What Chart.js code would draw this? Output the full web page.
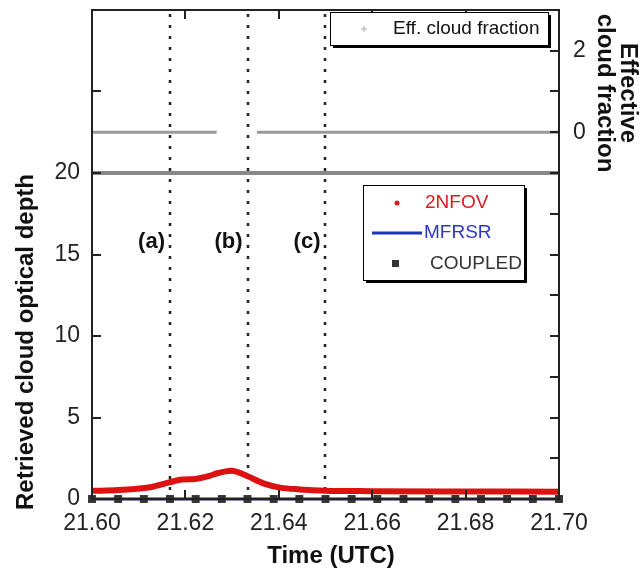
<!DOCTYPE html>
<html>
<head>
<meta charset="utf-8">
<script src="https://cdn.jsdelivr.net/npm/chart.js@4/dist/chart.umd.min.js"></script>
<style>
  html, body { margin: 0; padding: 0; background: #fff; }
</style>
</head>
<body>
<canvas id="cloudDepth" width="641" height="573"></canvas>
<script>
// time in UTC hours
var timeNfov   = [21.600, 21.6056, 21.6128, 21.6163, 21.6193, 21.6221, 21.6253, 21.6268, 21.6299, 21.6331, 21.6367, 21.6403, 21.6445, 21.6499, 21.660, 21.680, 21.700];
var depthNfov  = [0.50, 0.55, 0.74, 1.00, 1.19, 1.23, 1.43, 1.58, 1.74, 1.43, 0.96, 0.70, 0.59, 0.51, 0.48, 0.46, 0.45];

var timeCoupled  = [21.6000, 21.6056, 21.6111, 21.6167, 21.6222, 21.6278, 21.6333, 21.6389, 21.6444, 21.6500,
                    21.6556, 21.6611, 21.6667, 21.6722, 21.6778, 21.6833, 21.6889, 21.6944, 21.7000];
var depthCoupled = [0, 0, 0, 0, 0, 0, 0, 0, 0, 0, 0, 0, 0, 0, 0, 0, 0, 0, 0];
var depthMfrsr   = [0, 0, 0, 0, 0, 0, 0, 0, 0, 0, 0, 0, 0, 0, 0, 0, 0, 0, 0];

var timeFraction  = [21.600, 21.6267, 21.631, 21.6353, 21.700];
var cloudFraction = [0, 0, null, 0, 0];

var timeDivider  = [21.600, 21.700];
var depthDivider = [20, 20];

var eventTimes  = [21.6167, 21.6333, 21.6500];
var eventLabels = ['(a)', '(b)', '(c)'];

var xTicks = [21.60, 21.62, 21.64, 21.66, 21.68, 21.70];

var FONT = '"Liberation Sans", Arial, Helvetica, sans-serif';

function pairs(xs, ys) {
  var out = [];
  for (var i = 0; i < xs.length; i++) out.push({x: xs[i], y: ys[i]});
  return out;
}

function drawBox(ctx, x, y, w, h) {
  ctx.fillStyle = '#000';
  ctx.fillRect(x + 3, y + 3, w, h);
  ctx.fillStyle = '#fff';
  ctx.fillRect(x, y, w, h);
  ctx.strokeStyle = '#000';
  ctx.lineWidth = 1;
  ctx.strokeRect(x + 0.5, y + 0.5, w, h);
}

function noPad(s) {
  s.paddingTop = 0; s.paddingBottom = 0;
  s.paddingLeft = 0; s.paddingRight = 0;
}

var decor = {
  id: 'decor',
  beforeDatasetsDraw: function(chart) {
    var ctx = chart.ctx, a = chart.chartArea, sx = chart.scales.x;
    ctx.save();
    ctx.strokeStyle = '#222';
    ctx.lineWidth = 2.5;
    ctx.setLineDash([3, 8]);
    eventTimes.forEach(function(t) {
      var px = Math.round(sx.getPixelForValue(t));
      ctx.beginPath();
      ctx.moveTo(px, a.top + 4);
      ctx.lineTo(px, a.bottom);
      ctx.stroke();
    });
    ctx.setLineDash([]);
    ctx.font = 'bold 22px ' + FONT;
    ctx.fillStyle = '#111';
    ctx.textAlign = 'right';
    ctx.textBaseline = 'middle';
    eventTimes.forEach(function(t, i) {
      ctx.fillText(eventLabels[i], sx.getPixelForValue(t) - 5, 242);
    });
    ctx.restore();
  },
  afterDraw: function(chart) {
    var ctx = chart.ctx, a = chart.chartArea;
    var sx = chart.scales.x, sy = chart.scales.y, sy2 = chart.scales.y2;
    ctx.save();

    // inward ticks
    ctx.strokeStyle = '#222';
    ctx.lineWidth = 2;
    ctx.beginPath();
    [0, 5, 10, 15, 20, 25].forEach(function(v) {
      var py = Math.round(sy.getPixelForValue(v));
      ctx.moveTo(a.left, py); ctx.lineTo(a.left + 9, py);
    });
    [-8, -7, -6, -5, -4, -3, -2, -1, 0, 1, 2].forEach(function(v) {
      var py = Math.round(sy2.getPixelForValue(v));
      ctx.moveTo(a.right, py); ctx.lineTo(a.right - 9, py);
    });
    xTicks.forEach(function(v) {
      var px = Math.round(sx.getPixelForValue(v));
      ctx.moveTo(px, a.top); ctx.lineTo(px, a.top + 9);
      ctx.moveTo(px, a.bottom); ctx.lineTo(px, a.bottom - 9);
    });
    ctx.stroke();

    // frame
    ctx.lineWidth = 2;
    ctx.strokeRect(a.left, a.top, a.right - a.left, a.bottom - a.top);

    // legend: cloud fraction
    drawBox(ctx, 330, 12, 218, 33);
    ctx.strokeStyle = '#aaa';
    ctx.lineWidth = 1;
    ctx.beginPath();
    ctx.moveTo(361, 29); ctx.lineTo(367, 29);
    ctx.moveTo(364, 26); ctx.lineTo(364, 32);
    ctx.stroke();
    ctx.font = '19px ' + FONT;
    ctx.fillStyle = '#111';
    ctx.textAlign = 'left';
    ctx.textBaseline = 'middle';
    ctx.fillText(chart.data.datasets[3].label, 393, 29);

    // legend: retrievals
    drawBox(ctx, 363, 185, 161, 95);
    ctx.font = '19px ' + FONT;
    ctx.fillStyle = '#dd1a1a';
    ctx.beginPath(); ctx.arc(397, 203, 2.5, 0, Math.PI * 2); ctx.fill();
    ctx.fillText(chart.data.datasets[0].label, 425, 203);
    ctx.strokeStyle = '#1f2fbf';
    ctx.lineWidth = 3;
    ctx.beginPath(); ctx.moveTo(372, 233); ctx.lineTo(422, 233); ctx.stroke();
    ctx.fillStyle = '#2a36c8';
    ctx.fillText(chart.data.datasets[2].label, 424, 233);
    ctx.fillStyle = '#333';
    ctx.fillRect(392, 260, 7, 7);
    ctx.fillText(chart.data.datasets[1].label, 430, 264);

    // axis titles
    ctx.fillStyle = '#111';
    ctx.font = 'bold 24px ' + FONT;
    ctx.textAlign = 'center';
    ctx.fillText('Time (UTC)', 331, 556);

    ctx.save();
    ctx.translate(26, 342);
    ctx.rotate(-Math.PI / 2);
    ctx.fillText('Retrieved cloud optical depth', 0, 0);
    ctx.restore();

    ctx.save();
    ctx.translate(628, 93);
    ctx.rotate(Math.PI / 2);
    ctx.fillText('Effective', 0, 0);
    ctx.fillText('cloud fraction', 0, 23);
    ctx.restore();

    ctx.restore();
  }
};

var tickFont = { family: FONT, size: 23 };

new Chart(document.getElementById('cloudDepth').getContext('2d'), {
  type: 'line',
  data: {
    datasets: [
      {
        label: '2NFOV',
        data: pairs(timeNfov, depthNfov),
        borderColor: '#dd1111',
        borderWidth: 6,
        pointRadius: 0,
        cubicInterpolationMode: 'monotone',
        yAxisID: 'y',
        clip: false
      },
      {
        label: 'COUPLED',
        data: pairs(timeCoupled, depthCoupled),
        showLine: false,
        pointStyle: 'rect',
        pointRadius: 5.6,
        pointBackgroundColor: '#333',
        pointBorderWidth: 0,
        yAxisID: 'y',
        clip: false
      },
      {
        label: 'MFRSR',
        data: pairs(timeCoupled, depthMfrsr),
        borderColor: '#141466',
        borderWidth: 3,
        pointRadius: 0,
        yAxisID: 'y',
        clip: false
      },
      {
        label: 'Eff. cloud fraction',
        data: pairs(timeFraction, cloudFraction),
        borderColor: '#999',
        borderWidth: 3,
        pointRadius: 0,
        spanGaps: false,
        yAxisID: 'y2'
      },
      {
        label: '',
        data: pairs(timeDivider, depthDivider),
        borderColor: '#888',
        borderWidth: 4,
        pointRadius: 0,
        yAxisID: 'y'
      }
    ]
  },
  options: {
    responsive: false,
    animation: false,
    layout: { padding: { top: 10, left: 0, right: 0, bottom: 0 } },
    plugins: { legend: { display: false }, tooltip: { enabled: false } },
    scales: {
      x: {
        type: 'linear',
        min: 21.6,
        max: 21.7,
        afterBuildTicks: function(s) { s.ticks = xTicks.map(function(v) { return {value: v}; }); },
        ticks: {
          callback: function(v) { return Number(v).toFixed(2); },
          font: tickFont, color: '#222', padding: 11, maxRotation: 0, autoSkip: false
        },
        grid: { display: false, drawTicks: false },
        border: { display: false },
        afterFit: function(s) { s.height = 74; noPad(s); }
      },
      y: {
        position: 'left',
        min: 0,
        max: 30,
        ticks: {
          stepSize: 5,
          callback: function(v) { return v <= 20 ? v : ''; },
          font: tickFont, color: '#222', padding: 12
        },
        grid: { display: false, drawTicks: false },
        border: { display: false },
        afterFit: function(s) { s.width = 92; noPad(s); }
      },
      y2: {
        position: 'right',
        min: -9,
        max: 3,
        ticks: {
          stepSize: 1,
          callback: function(v) { return (v === 0 || v === 2) ? v : ''; },
          font: tickFont, color: '#222', padding: 14
        },
        grid: { display: false, drawTicks: false },
        border: { display: false },
        afterFit: function(s) { s.width = 82; noPad(s); }
      }
    }
  },
  plugins: [decor]
});
</script>
</body>
</html>
